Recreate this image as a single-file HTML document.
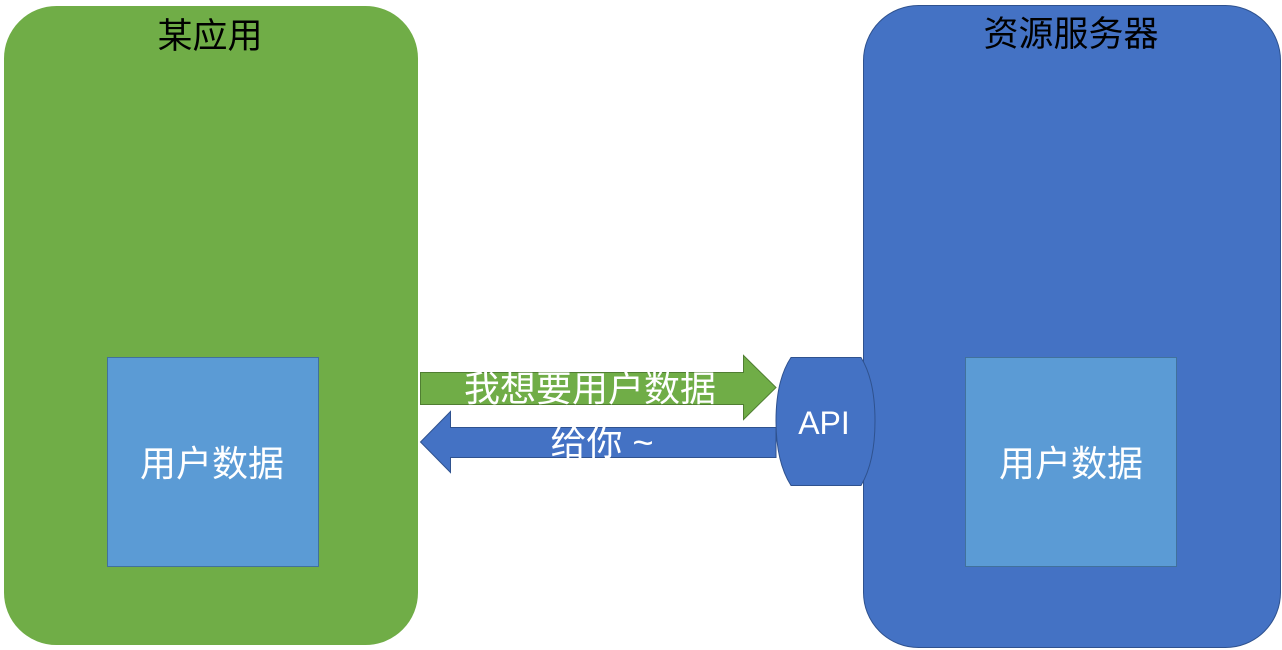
<!DOCTYPE html>
<html><head><meta charset="utf-8"><style>
body{margin:0;width:1282px;height:650px;background:#fff;overflow:hidden;font-family:"Liberation Sans","Noto Sans CJK SC",sans-serif}
</style></head><body>
<svg width="1282" height="650" xmlns="http://www.w3.org/2000/svg" style="position:absolute;left:0;top:0">
<rect x="4.5" y="6.5" width="413" height="638" rx="52" fill="#70ad47" stroke="#70ad47"/>
<rect x="863.5" y="5.5" width="417" height="642" rx="55" fill="#4472c4" stroke="#2f528f"/>
<rect x="107.5" y="357.5" width="211" height="209" fill="#5b9bd5" stroke="#41719c"/>
<rect x="965.5" y="357.5" width="211" height="209" fill="#5b9bd5" stroke="#41719c"/>
<polygon points="420.5,372.5 743.5,372.5 743.5,355.5 776,387.5 743.5,419.5 743.5,404.5 420.5,404.5" fill="#70ad47" stroke="#507e32"/>
<polygon points="776,427.5 450.5,427.5 450.5,411.5 420.5,442 450.5,472.5 450.5,457.5 776,457.5" fill="#4472c4" stroke="#2f528f"/>
<path d="M791 357.5 L861 357.5 Q875 380 875 421 Q875 462 861 485.5 L791 485.5 Q776 462 776 421 Q776 380 791 357.5 Z" fill="#4472c4" stroke="#2f528f"/>
<g font-family="Liberation Sans,Noto Sans CJK SC,sans-serif" text-anchor="middle">
<text x="210" y="48" font-size="35" fill="#000">某应用</text>
<text x="1071" y="46" font-size="35" fill="#000">资源服务器</text>
<text x="212" y="476" font-size="36" fill="#fff">用户数据</text>
<text x="1071" y="476" font-size="36" fill="#fff">用户数据</text>
<text x="590" y="401" font-size="36" fill="#fff">我想要用户数据</text>
<text x="602" y="455" font-size="36" fill="#fff">给你 ~</text>
<text x="824" y="434" font-size="32" fill="#fff">API</text>
</g>
</svg>
</body></html>
